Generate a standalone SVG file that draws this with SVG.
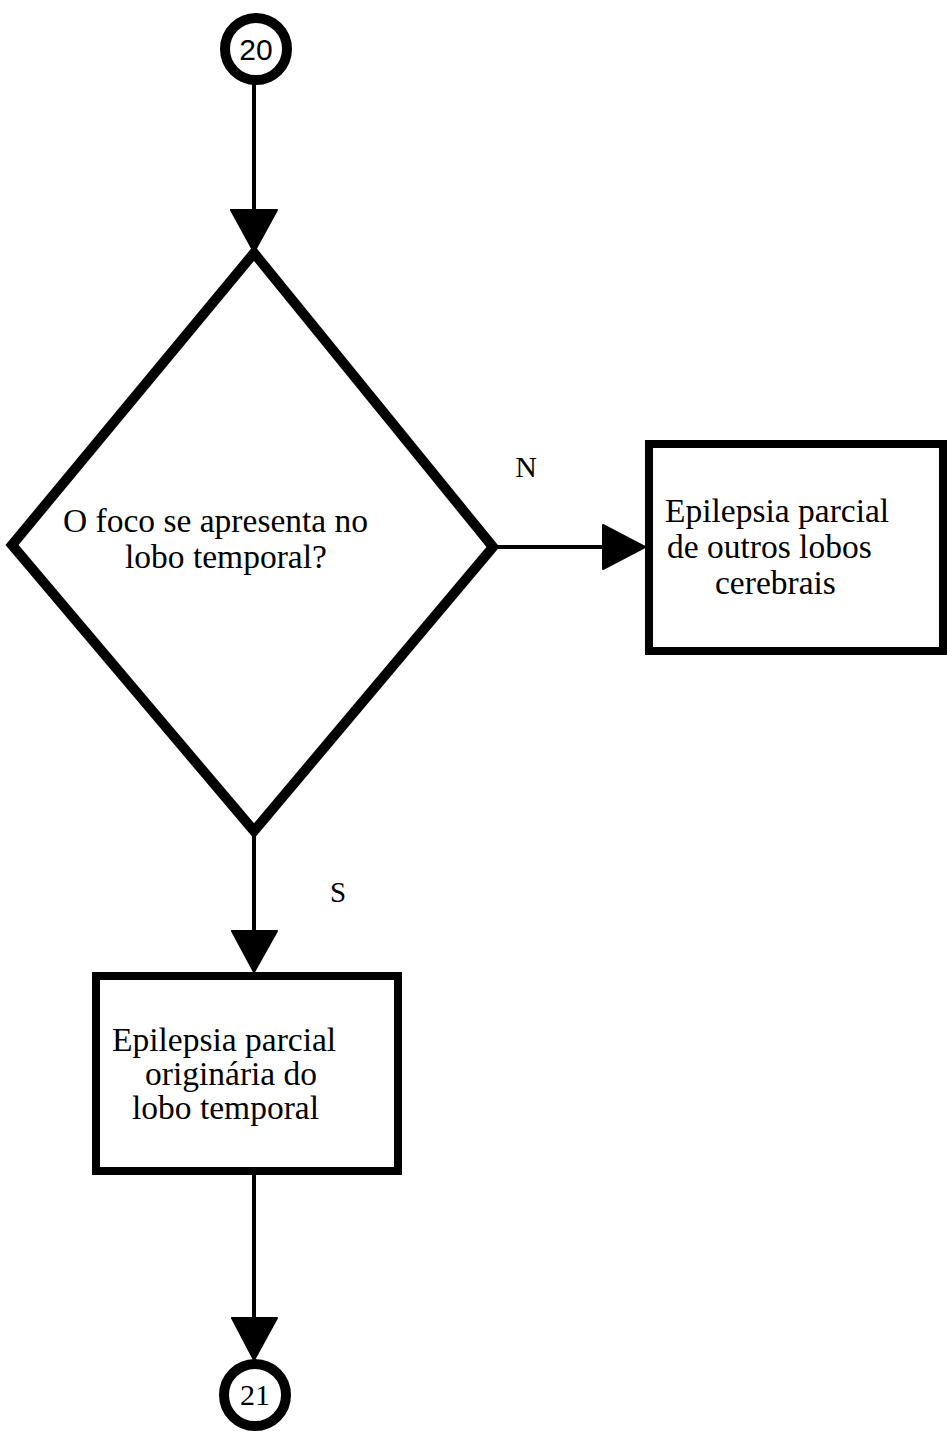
<svg xmlns="http://www.w3.org/2000/svg" width="947" height="1437" viewBox="0 0 947 1437">
  <style>
    .t { font-family: "Liberation Serif", "Times New Roman", serif; fill: #000; }
    .box { fill: #fff; stroke: #000; stroke-width: 8; }
    .ring { fill: #fff; stroke: #000; stroke-width: 10; }
    .edge { stroke: #000; stroke-width: 4; fill: none; }
    .head { fill: #000; stroke: #000; stroke-width: 2; stroke-linejoin: round; }
  </style>

  <!-- connectors -->
  <g id="connectors">
    <line class="edge" x1="254" y1="84" x2="254" y2="212"/>
    <polygon class="head" points="231,210 277,210 254,252"/>
    <line class="edge" x1="492" y1="547" x2="605" y2="547"/>
    <polygon class="head" points="603,525 603,569 645,547"/>
    <line class="edge" x1="254" y1="830" x2="254" y2="933"/>
    <polygon class="head" points="232,931 277,931 254,972"/>
    <line class="edge" x1="254" y1="1175" x2="254" y2="1320"/>
    <polygon class="head" points="232,1318 277,1318 254,1360"/>
    <text class="t" x="526" y="477" font-size="30" text-anchor="middle">N</text>
    <text class="t" x="338" y="902" font-size="29" text-anchor="middle">S</text>
  </g>

  <!-- connector 20 -->
  <g id="node-20">
    <circle class="ring" cx="256" cy="49" r="31"/>
    <text x="256" y="60" font-size="30" text-anchor="middle" font-family="Liberation Sans, Arial, sans-serif">20</text>
  </g>

  <!-- decision -->
  <g id="node-decision">
    <polygon points="254,253 12,545 254,831 493,547" fill="#fff" stroke="#000" stroke-width="10" stroke-linejoin="miter"/>
    <text class="t" font-size="33.5">
      <tspan x="63" y="532">O foco se apresenta no</tspan>
      <tspan x="125" y="568">lobo temporal?</tspan>
    </text>
  </g>

  <!-- other lobes -->
  <g id="node-other-lobes">
    <rect class="box" x="649" y="444" width="294" height="207"/>
    <text class="t" font-size="33.5">
      <tspan x="665" y="522">Epilepsia parcial</tspan>
      <tspan x="667" y="558">de outros lobos</tspan>
      <tspan x="715" y="594">cerebrais</tspan>
    </text>
  </g>

  <!-- temporal lobe -->
  <g id="node-temporal">
    <rect class="box" x="96" y="976" width="302" height="195"/>
    <text class="t" font-size="33.5">
      <tspan x="112" y="1051">Epilepsia parcial</tspan>
      <tspan x="145" y="1085">originária do</tspan>
      <tspan x="132" y="1119">lobo temporal</tspan>
    </text>
  </g>

  <!-- connector 21 -->
  <g id="node-21">
    <circle class="ring" cx="255" cy="1395" r="31"/>
    <text class="t" x="255" y="1405" font-size="30" text-anchor="middle">21</text>
  </g>
</svg>
